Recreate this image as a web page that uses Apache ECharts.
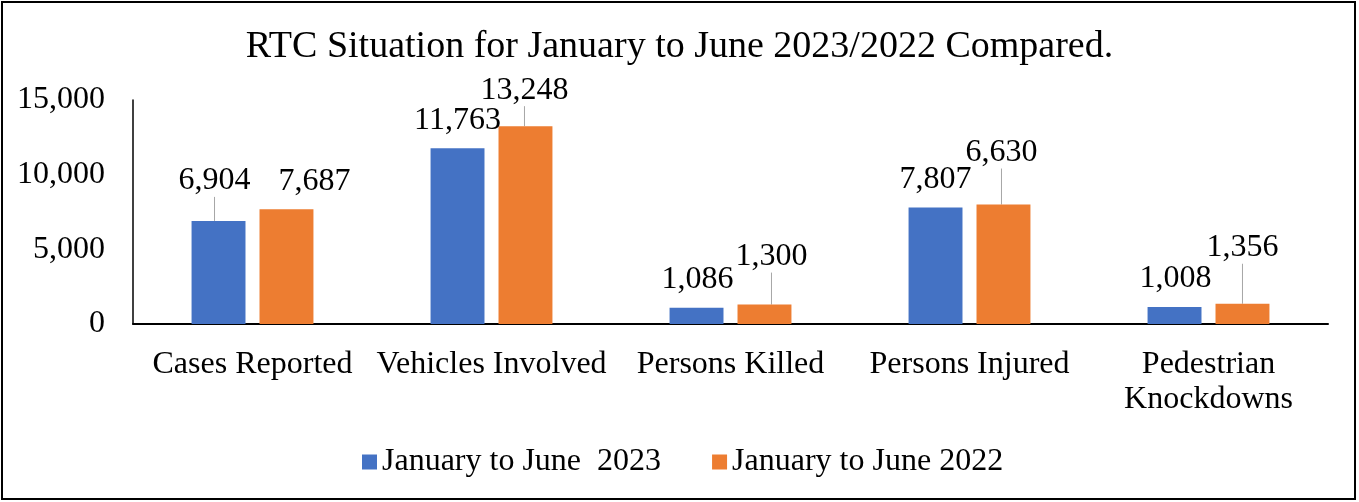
<!DOCTYPE html>
<html>
<head>
<meta charset="utf-8">
<script src="https://cdn.jsdelivr.net/npm/echarts@6/dist/echarts.min.js"></script>
<style>
html,body{margin:0;padding:0;background:#fff;}
#chart{width:1359px;height:502px;}
</style>
</head>
<body>
<div id="chart"></div>
<script>
// ---- data ----
const categories = ['Cases Reported', 'Vehicles Involved', 'Persons Killed', 'Persons Injured', 'Pedestrian\nKnockdowns'];
const seriesNames = ['January to June  2023', 'January to June 2022'];
const values2023 = [6904, 11763, 1086, 7807, 1140];
const values2022 = [7687, 13248, 1300, 8000, 1356];
const labels2023 = ['6,904', '11,763', '1,086', '7,807', '1,008'];
const labels2022 = ['7,687', '13,248', '1,300', '6,630', '1,356'];
const yTicks = [0, 5000, 10000, 15000];

// ---- label placement (styling, not data) ----
const labelOffsets = [
  [[-4, -12], [0, 0], [1, 0], [0, 0], [1, 0]],
  [[28, 0], [-1, -8], [7, -20], [-2, -24], [0, -28]]
];
const leaderShown = [
  [true, false, false, false, false],
  [false, true, true, true, true]
];

const FONT = "'Liberation Serif', 'Times New Roman', serif";
const colors = ['#4472C4', '#ED7D31'];

function buildData(vals, labs, si) {
  return vals.map((v, i) => ({
    value: v,
    label: { formatter: labs[i] },
    labelLine: { show: leaderShown[si][i] }
  }));
}

function seriesLabel() {
  return { show: true, position: 'top', distance: 6, padding: [0, 0, 6, 0], fontFamily: FONT, fontSize: 32, color: '#000' };
}

const chart = echarts.init(document.getElementById('chart'), null, { renderer: 'canvas' });
chart.setOption({
  animation: false,
  backgroundColor: '#fff',
  color: colors,
  title: {
    text: 'RTC Situation for January to June 2023/2022 Compared.',
    left: 'center',
    top: 23,
    textStyle: { fontFamily: FONT, fontSize: 38, fontWeight: 'normal', color: '#000' }
  },
  legend: {
    left: 357,
    top: 441,
    itemWidth: 15,
    itemHeight: 15,
    itemGap: 51,
    icon: 'rect',
    textStyle: { fontFamily: FONT, fontSize: 32, color: '#000' },
    data: seriesNames
  },
  grid: { left: 133, right: 31, top: 100, bottom: 178, containLabel: false },
  xAxis: {
    type: 'category',
    data: categories,
    axisTick: { show: false },
    axisLine: { show: true, lineStyle: { color: '#000', width: 2 } },
    axisLabel: { fontFamily: FONT, fontSize: 32, color: '#000', margin: 23, lineHeight: 35, interval: 0 }
  },
  yAxis: {
    type: 'value',
    min: yTicks[0],
    max: yTicks[yTicks.length - 1],
    interval: yTicks[1] - yTicks[0],
    splitLine: { show: false },
    axisTick: { show: false },
    axisLine: { show: true, lineStyle: { color: '#000', width: 1.5 } },
    axisLabel: {
      fontFamily: FONT, fontSize: 32, color: '#000', margin: 28,
      formatter: v => v.toLocaleString('en-US')
    }
  },
  series: [
    {
      name: seriesNames[0],
      type: 'bar',
      data: buildData(values2023, labels2023, 0),
      barGap: '26%',
      barCategoryGap: '49%',
      label: seriesLabel(),
      labelLine: { show: false, lineStyle: { color: '#a6a6a6', width: 1 } },
      labelLayout: p => ({ dx: labelOffsets[0][p.dataIndex][0], dy: labelOffsets[0][p.dataIndex][1] })
    },
    {
      name: seriesNames[1],
      type: 'bar',
      data: buildData(values2022, labels2022, 1),
      barGap: '26%',
      barCategoryGap: '49%',
      label: seriesLabel(),
      labelLine: { show: false, lineStyle: { color: '#a6a6a6', width: 1 } },
      labelLayout: p => ({ dx: labelOffsets[1][p.dataIndex][0], dy: labelOffsets[1][p.dataIndex][1] })
    }
  ],
  graphic: [{
    type: 'rect',
    shape: { x: 2, y: 2, width: 1353, height: 497 },
    style: { fill: 'none', stroke: '#000', lineWidth: 2 },
    silent: true,
    z: 100
  }]
});
</script>
</body>
</html>
